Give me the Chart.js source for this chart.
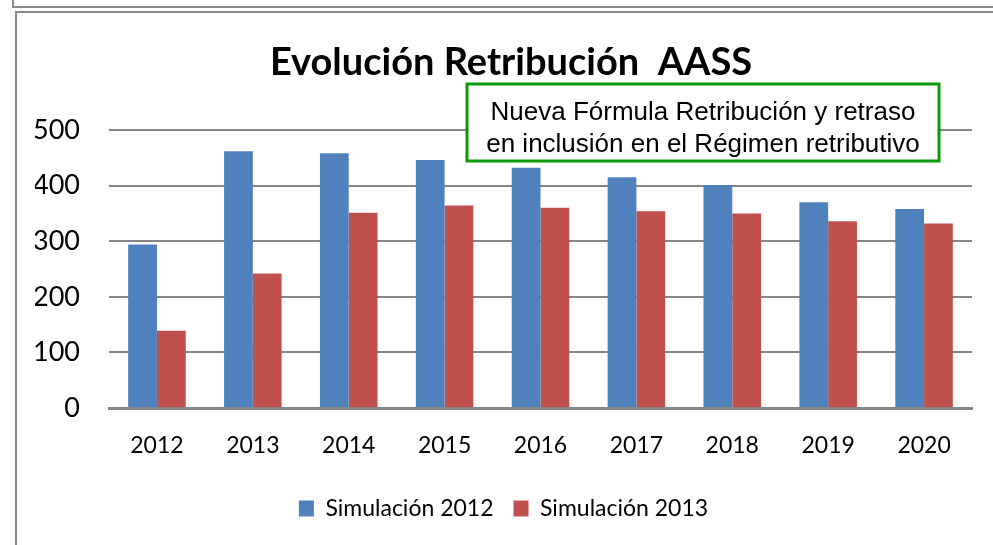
<!DOCTYPE html>
<html>
<head>
<meta charset="utf-8">
<script src="https://cdn.jsdelivr.net/npm/chart.js@4"></script>
<style>
  html, body { margin: 0; padding: 0; background: #fff; overflow: hidden; }
  .marco { position: absolute; border: 2px solid #8a8a8a; }
  #wrap { position: absolute; left: 0; top: 0; width: 993px; height: 545px; }
</style>
</head>
<body>
<div class="marco" style="left:12px; top:-30px; width:2000px; height:34px;"></div>
<div class="marco" style="left:15px; top:11px; width:2000px; height:2000px;"></div>
<div id="wrap"><canvas id="grafico"></canvas></div>
<script>
const anios = ['2012', '2013', '2014', '2015', '2016', '2017', '2018', '2019', '2020'];
const simulacion2012 = [294, 462, 458, 446, 432, 415, 401, 370, 358];
const simulacion2013 = [139, 242, 351, 364, 360, 354, 350, 336, 332];
const ticksY = [0, 100, 200, 300, 400, 500];

const titulo = 'Evolución Retribución  AASS';
const nota = ['Nueva Fórmula Retribución y retraso', 'en inclusión en el Régimen retributivo'];

// titulo y recuadro verde dibujados a mano
const extras = {
  id: 'extras',
  afterDraw(chart) {
    const ctx = chart.ctx;
    const area = chart.chartArea;
    ctx.save();
    ctx.fillStyle = '#000';
    ctx.textAlign = 'center';
    ctx.textBaseline = 'alphabetic';
    ctx.font = "bold 38px Lato, sans-serif";
    ctx.fillText(titulo, 511, 75);

    const x = area.left + 358;
    const y = 84;
    const w = 472;
    const h = 77;
    ctx.fillStyle = '#fff';
    ctx.fillRect(x, y, w, h);
    ctx.strokeStyle = '#0a9a0a';
    ctx.lineWidth = 3;
    ctx.strokeRect(x, y, w, h);
    ctx.fillStyle = '#000';
    ctx.font = "26px 'Liberation Sans', Arial, sans-serif";
    ctx.fillText(nota[0], x + w / 2, y + 36);
    ctx.fillText(nota[1], x + w / 2, y + 68);
    ctx.restore();
  }
};

const ctx = document.getElementById('grafico');

new Chart(ctx, {
  type: 'bar',
  data: {
    labels: anios,
    datasets: [{
      label: 'Simulación 2012',
      data: simulacion2012,
      backgroundColor: '#4f81bd'
    }, {
      label: 'Simulación 2013',
      data: simulacion2013,
      backgroundColor: '#c0504d'
    }]
  },
  options: {
    responsive: true,
    maintainAspectRatio: false,
    animation: false,
    layout: {
      padding: { top: 130, left: 35, right: 21, bottom: 15 }
    },
    datasets: {
      bar: { categoryPercentage: 0.6, barPercentage: 1 }
    },
    plugins: {
      title: { display: false },
      tooltip: { enabled: false },
      legend: {
        position: 'bottom',
        labels: {
          color: '#000',
          boxWidth: 15,
          boxHeight: 16,
          padding: 20,
          font: { size: 23, family: "Lato, sans-serif" }
        }
      }
    },
    scales: {
      x: {
        grid: { display: false, drawTicks: false },
        border: { color: '#868686', width: 3 },
        ticks: {
          color: '#000',
          padding: 24,
          font: { size: 23, family: "Lato, sans-serif" }
        },
        afterFit: (s) => { s.height = 69; }
      },
      y: {
        min: 0,
        max: 500,
        afterBuildTicks: (s) => { s.ticks = ticksY.map((v) => ({ value: v })); },
        grid: { color: '#868686', lineWidth: 2, drawTicks: false },
        border: { display: false },
        ticks: {
          color: '#000',
          padding: 29,
          font: { size: 27, family: "Lato, sans-serif" }
        },
        afterFit: (s) => { s.width = 74; }
      }
    }
  },
  plugins: [extras]
});
</script>
</body>
</html>
